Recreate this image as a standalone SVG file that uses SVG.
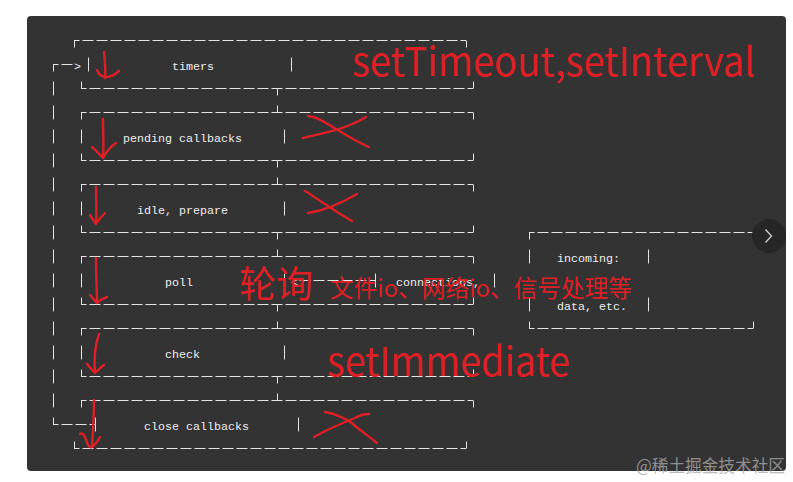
<svg xmlns="http://www.w3.org/2000/svg" width="793" height="482" viewBox="0 0 793 482">
<defs>
<style>
.h{fill:none;stroke:#e4e4e4;stroke-width:1;stroke-dasharray:11 3;stroke-dashoffset:5.5}
.v{fill:none;stroke:#e4e4e4;stroke-width:1}
.t{font-family:"Liberation Mono","DejaVu Sans Mono",monospace;font-size:11.67px;fill:#eeeeee}
.r{fill:none;stroke:#dd1f26;stroke-width:2.4;stroke-linecap:round;stroke-linejoin:round}
.rt{font-family:"Noto Sans CJK SC","Noto Sans",sans-serif;fill:#dd1f26}
</style>
</defs>
<rect width="793" height="482" fill="#ffffff"/>
<rect x="27" y="16" width="759" height="455" rx="4" fill="#333333"/>

<g id="timers">
<path class="h" d="M74 40.5H466M81 88.5H473"/>
<path class="v" d="M74.5 40.5V47.5M466.5 40.5V47.5M88.5 57.5V71.5M291.5 57.5V71.5M81.5 81.5V88.5M473.5 81.5V88.5"/>
<text class="t" x="172" y="69.5">timers</text>
</g>
<g id="pending-callbacks">
<path class="h" d="M81 112.5H473M81 160.5H473"/>
<path class="v" d="M81.5 112.5V119.5M473.5 112.5V119.5M81.5 129.5V143.5M284.5 129.5V143.5M81.5 153.5V160.5M473.5 153.5V160.5"/>
<text class="t" x="123" y="141.5">pending callbacks</text>
</g>
<g id="idle-prepare">
<path class="h" d="M81 184.5H473M81 232.5H473"/>
<path class="v" d="M81.5 184.5V191.5M473.5 184.5V191.5M81.5 201.5V215.5M284.5 201.5V215.5M81.5 225.5V232.5M473.5 225.5V232.5"/>
<text class="t" x="137" y="213.5">idle, prepare</text>
</g>
<g id="poll">
<path class="h" d="M81 256.5H473M81 304.5H473"/>
<path class="v" d="M81.5 256.5V263.5M473.5 256.5V263.5M81.5 273.5V287.5M284.5 273.5V287.5M81.5 297.5V304.5M473.5 297.5V304.5"/>
<text class="t" x="165" y="285.5">poll</text>
</g>
<g id="check">
<path class="h" d="M81 328.5H473M81 376.5H473"/>
<path class="v" d="M81.5 328.5V335.5M473.5 328.5V335.5M81.5 345.5V359.5M284.5 345.5V359.5M81.5 369.5V376.5M473.5 369.5V376.5"/>
<text class="t" x="165" y="357.5">check</text>
</g>
<g id="close-callbacks">
<path class="h" d="M81 400.5H473M74 448.5H466"/>
<path class="v" d="M81.5 400.5V407.5M473.5 400.5V407.5M95.5 417.5V431.5M298.5 417.5V431.5M74.5 441.5V448.5M466.5 441.5V448.5"/>
<text class="t" x="144" y="429.5">close callbacks</text>
</g>
<g id="incoming">
<path class="h" d="M529 232.5H753M529 328.5H753"/>
<path class="v" d="M529.5 232.5V239.5M753.5 232.5V239.5M529.5 249.5V263.5M648.5 249.5V263.5M375.5 273.5V287.5M494.5 273.5V287.5M529.5 297.5V311.5M648.5 297.5V311.5M529.5 321.5V328.5M753.5 321.5V328.5"/>
<text class="t" x="557" y="261.5">incoming:</text>
<text class="t" x="396" y="285.5">connections,</text>
<text class="t" x="557" y="309.5">data, etc.</text>
</g>

<g id="connectors">
<path class="v" d="M277.5 88.5V95.5M277.5 105.5V112.5M277.5 160.5V167.5M277.5 177.5V184.5M277.5 232.5V239.5M277.5 249.5V256.5M277.5 304.5V311.5M277.5 321.5V328.5M277.5 376.5V383.5M277.5 393.5V400.5"/>
<path class="h" d="M53 64.5H74M53 424.5H95"/>
<path class="v" d="M53.5 64.5V71.5M53.5 81.5V95.5M53.5 105.5V119.5M53.5 129.5V143.5M53.5 153.5V167.5M53.5 177.5V191.5M53.5 201.5V215.5M53.5 225.5V239.5M53.5 249.5V263.5M53.5 273.5V287.5M53.5 297.5V311.5M53.5 321.5V335.5M53.5 345.5V359.5M53.5 369.5V383.5M53.5 393.5V407.5M53.5 417.5V424.5"/>
<text class="t" x="74" y="69.5">&gt;</text>
<text class="t" x="291" y="285.5">&lt;</text>
<path class="h" style="stroke-dashoffset:12.5" d="M298 280.5H375"/>
</g>

<g id="annotations">
<path class="r" d="M104 52C105 62 106 70 105 78M97 70C100 78 109 80 119 71"/>
<path class="r" d="M103 119C103 132 104 146 103 158M92 147C97 151 100 155 103 158C107 151 111 146 116 143"/>
<path class="r" d="M96 187C96 200 97 212 96 223M90 215C92 218 94 221 96 224C99 219 102 216 105 213"/>
<path class="r" d="M96 258C96 275 97 290 97 303M90 295C93 298 95 301 97 303C100 300 104 298 107 297"/>
<path class="r" d="M99 334C95 345 94 360 95 373M87 364C90 368 93 371 95 373C98 370 101 367 104 365"/>
<path class="r" d="M94 400C94 415 93 432 92 447M80 434C84 431 86 440 88 445C90 449 93 447 96 443C98 441 99 439 100 437"/>
<path class="r" d="M308 116C322 117 340 134 369 147M303 138C322 133 345 130 366 117"/>
<path class="r" d="M305 191C318 199 336 212 352 221M308 213C322 211 340 204 357 194"/>
<path class="r" d="M325 412C336 414 345 418 353 424C362 432 370 437 377 443M314 437C330 428 345 422 355 418C360 415 365 414 369 414"/>
<text class="rt" x="352" y="76" font-size="40" textLength="403" lengthAdjust="spacingAndGlyphs">setTimeout,setInterval</text>
<text class="rt" x="239" y="298" font-size="37" textLength="74" lengthAdjust="spacingAndGlyphs">轮询</text>
<text class="rt" x="330" y="297" font-size="24" textLength="302" lengthAdjust="spacingAndGlyphs">文件io、网络io、信号处理等</text>
<text class="rt" x="327" y="376" font-size="40" textLength="243" lengthAdjust="spacingAndGlyphs">setImmediate</text>
</g>

<g id="scroll-button">
<circle cx="769" cy="236" r="17" fill="#262626"/>
<path d="M765.5 229.5L771.5 236L765.5 242.5" fill="none" stroke="#d0d0d0" stroke-width="1.3"/>
</g>
<text x="636" y="472" font-family="Noto Sans CJK SC,Noto Sans,sans-serif" font-size="17.5" fill="#a8a8a8" fill-opacity="0.8" textLength="149" lengthAdjust="spacingAndGlyphs">@稀土掘金技术社区</text>
</svg>
